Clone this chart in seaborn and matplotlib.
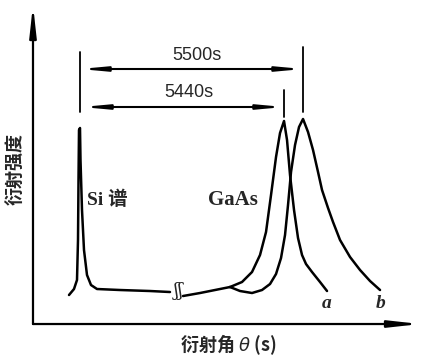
import numpy as np
import pandas as pd
import matplotlib
matplotlib.use("Agg")
import matplotlib.pyplot as plt
import seaborn as sns

# rocking curve traces (arbitrary angle / intensity units)
si_x = [36, 41, 44, 45, 45.5, 46, 47, 47.5, 49, 51, 54, 58, 64, 87, 117, 137]
si_y = [29, 35, 44, 84, 144, 194, 196, 164, 114, 74, 49, 39, 35, 34, 33, 32]

base_x = [150, 167, 182, 197]
base_y = [28, 31, 34, 37]

a_x = [197, 209, 219, 227, 233, 238, 243, 247, 251, 254, 257, 261, 265, 269, 273, 279, 287, 294]
a_y = [37, 42, 52, 69, 92, 129, 167, 191, 203, 184, 149, 114, 86, 69, 60, 52, 42, 33]

b_x = [197, 207, 219, 229, 237, 243, 248, 252, 255, 258, 262, 266, 270, 275, 280, 285,
       289, 295, 300, 307, 317, 327, 337, 347]
b_y = [37, 33, 31, 34, 40, 50, 66, 89, 119, 152, 179, 197, 205, 192, 174, 152,
       134, 116, 102, 84, 67, 54, 43, 34]

# peak positions used for the separation markers
peak_si, peak_a, peak_b = 47, 251, 270
sep_labels = ["5500s", "5440s"]

sns.set_style("white")
plt.rcParams["font.family"] = ["Noto Sans CJK SC", "DejaVu Sans"]

fig = plt.figure(figsize=(4.23, 3.57), dpi=100)
ax = fig.add_axes([0.078, 0.0924, 0.915, 0.8936])
ax.set_xlim(0, 387)
ax.set_ylim(0, 319)
for s in ax.spines.values():
    s.set_visible(False)
ax.set_xticks([])
ax.set_yticks([])

lw = 1.8
for xs, ys in [(si_x, si_y), (base_x, base_y), (a_x, a_y), (b_x, b_y)]:
    df = pd.DataFrame({"x": xs, "y": ys})
    sns.lineplot(data=df, x="x", y="y", sort=False, estimator=None,
                 color="black", lw=lw, ax=ax)
ax.set_xlabel("")
ax.set_ylabel("")

# axes with arrows
arr = dict(arrowstyle="-|>,head_length=1.8,head_width=0.2", color="black", lw=1.6,
           shrinkA=0, shrinkB=0)
ax.annotate("", xy=(0, 1), xytext=(0, 0), xycoords="axes fraction", arrowprops=arr)
ax.annotate("", xy=(1, 0), xytext=(0, 0), xycoords="axes fraction", arrowprops=arr)

# break mark on the baseline
ax.text(146, 33, "ʃʃ", ha="center", va="center", fontsize=13, family="DejaVu Serif")

# separation markers
ax.plot([peak_si, peak_si], [212, 272], color="black", lw=1.3)
ax.plot([peak_b, peak_b], [212, 277], color="black", lw=1.3)
ax.plot([peak_a, peak_a], [207, 234], color="black", lw=1.3)
darr = dict(arrowstyle="<|-|>,head_length=1.4,head_width=0.13", color="black", lw=1.5,
            shrinkA=0, shrinkB=0)
ax.annotate("", xy=(peak_b, 255), xytext=(peak_si, 255), arrowprops=darr)
ax.annotate("", xy=(peak_a, 217), xytext=(peak_si + 2, 217), arrowprops=darr)
ax.text(164, 269, sep_labels[0], ha="center", va="center", fontsize=13, family="Liberation Sans")
ax.text(156, 232, sep_labels[1], ha="center", va="center", fontsize=13, family="Liberation Sans")

# curve labels
ax.text(54, 124, "Si 谱", ha="left", va="center", fontsize=14, fontweight="bold",
        family=["Liberation Serif", "Noto Sans CJK SC"])
ax.text(175, 124, "GaAs", ha="left", va="center", fontsize=15, fontweight="bold",
        family="Liberation Serif")
ax.text(294, 21, "a", ha="center", va="center", fontsize=14, style="italic", fontweight="bold",
        family="Liberation Serif")
ax.text(348, 21, "b", ha="center", va="center", fontsize=14, style="italic", fontweight="bold",
        family="Liberation Serif")

fig.text(16 / 423, 1 - 169 / 357, "衍射强度", rotation=90, ha="center", va="center",
         fontsize=13, fontweight="bold")
fig.text(228 / 423, 1 - 345 / 357, "衍射角 $\\theta$ (s)", ha="center", va="center",
         fontsize=13, fontweight="bold")

fig.savefig("out.png", dpi=100)
